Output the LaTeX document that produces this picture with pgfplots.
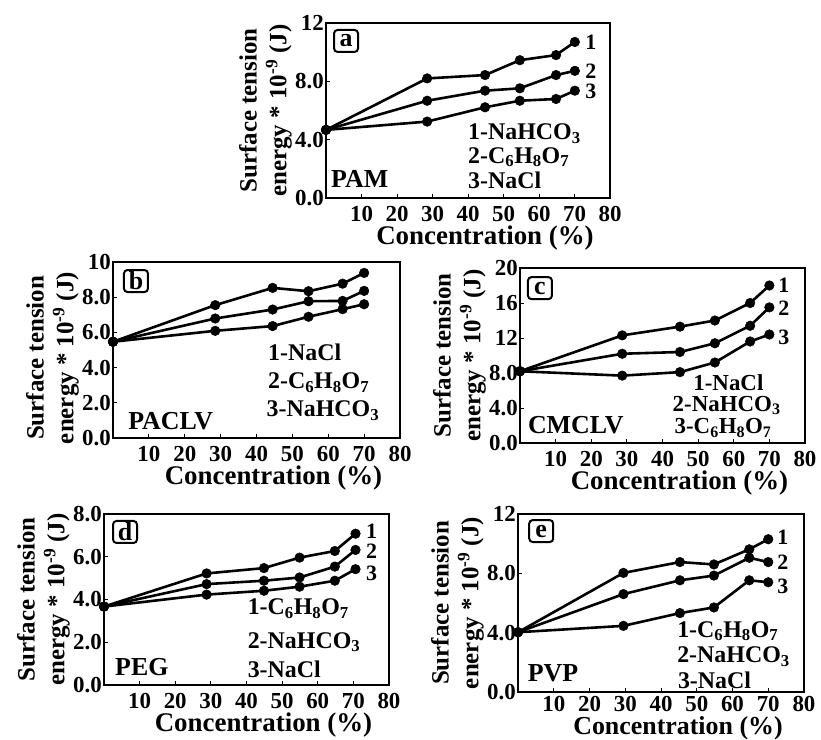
\documentclass[border=0pt]{standalone}
\usepackage{pgfplots}
\pgfplotsset{compat=1.18}
\usepackage{fontspec}
\setmainfont{Liberation Serif}
\pgfplotsset{
  panel/.style={
    scale only axis, clip=false,
    xmin=0, xmax=80, ymin=0,
    xtick={10,20,...,80},
    axis line style={line width=2bp},
    tick style={line width=1bp, black},
    major tick length=4bp,
    tick align=inside,
    xtick pos=bottom, ytick pos=left,
    ticklabel style={font=\fontsize{23}{24}\selectfont\bfseries},
    xticklabel style={inner sep=0pt, yshift=-8bp},
    yticklabel style={inner sep=2pt},
    /pgf/number format/assume math mode=true,
    xlabel={Concentration (\%)},
    xlabel style={font=\fontsize{27}{28}\selectfont\bfseries, inner sep=0pt,
      at={(axis description cs:0.5,0)}, anchor=north, yshift=-28bp, xshift=17bp},
    ylabel={Surface tension\\energy * 10\textsuperscript{-9} (J)},
    ylabel style={font=\fontsize{25}{30}\selectfont\bfseries, align=center, inner sep=1pt},
    every axis plot post/.append style={black, line width=2.6bp, mark=*, mark size=4.8bp,
      mark options={solid, fill=black, line width=0.5bp}},
  },
}
\tikzset{
  lbl/.style={font=\fontsize{24}{25}\selectfont\bfseries, inner sep=0pt},
  name/.style={font=\fontsize{26}{27}\selectfont\bfseries, inner sep=0pt},
  num/.style={font=\fontsize{22}{23}\selectfont\bfseries, inner sep=0pt},
  box/.style={draw, rounded corners=3.5bp, line width=2bp, inner sep=1bp, minimum width=24bp, minimum height=22bp, font=\fontsize{26}{27}\selectfont\bfseries},
}
\begin{document}
\begin{tikzpicture}
\useasboundingbox (0,0) rectangle (821bp,-740bp);
% ---------- a
\begin{axis}[panel, at={(326bp,-198bp)}, anchor=south west, width=284bp, height=175bp,
  ymax=12, ytick={0,4,8,12}, yticklabels={0.0,4.0,8.0,12}]
\addplot coordinates {(0,4.67)(28.5,8.2)(44.8,8.43)(54.6,9.45)(64.8,9.8)(70.1,10.7)};
\addplot coordinates {(0,4.67)(28.5,6.67)(44.8,7.36)(54.6,7.52)(64.8,8.43)(70.1,8.72)};
\addplot coordinates {(0,4.67)(28.5,5.24)(44.8,6.22)(54.6,6.67)(64.8,6.79)(70.1,7.36)};
\node[box] at (axis cs:5.65,10.77) {a};
\node[name, anchor=west] at (axis cs:1.4,1.3) {PAM};
\node[lbl, anchor=west] at (axis cs:40,4.4) {1-NaHCO\textsubscript{3}};
\node[lbl, anchor=west] at (axis cs:40,2.8) {2-C\textsubscript{6}H\textsubscript{8}O\textsubscript{7}};
\node[lbl, anchor=west] at (axis cs:40,1.2) {3-NaCl};
\node[num, anchor=west] at (axis cs:73,10.7) {1};
\node[num, anchor=west] at (axis cs:73,8.7) {2};
\node[num, anchor=west] at (axis cs:73,7.3) {3};
\end{axis}
% ---------- b
\begin{axis}[panel, at={(113bp,-438bp)}, anchor=south west, width=287bp, height=176bp,
  ymax=10, ytick={0,2,4,6,8,10}, yticklabels={0.0,2.0,4.0,6.0,8.0,10},
  ylabel style={xshift=-8bp}]
\addplot coordinates {(0,5.47)(28.5,7.55)(44.5,8.53)(54.5,8.34)(64,8.77)(70,9.38)};
\addplot coordinates {(0,5.47)(28.5,6.79)(44.5,7.30)(54.5,7.77)(64,7.79)(70,8.36)};
\addplot coordinates {(0,5.47)(28.5,6.09)(44.5,6.36)(54.5,6.89)(64,7.32)(70,7.60)};
\node[box] at (axis cs:6.4,8.92) {b};
\node[name, anchor=west] at (axis cs:4.2,0.97) {PACLV};
\node[lbl, anchor=west] at (axis cs:43.2,4.85) {1-NaCl};
\node[lbl, anchor=west] at (axis cs:43.2,3.15) {2-C\textsubscript{6}H\textsubscript{8}O\textsubscript{7}};
\node[lbl, anchor=west] at (axis cs:42.8,1.55) {3-NaHCO\textsubscript{3}};
\end{axis}
% ---------- c
\begin{axis}[panel, at={(520bp,-443bp)}, anchor=south west, width=285bp, height=175bp,
  ymax=20, ytick={0,4,8,12,16,20}, yticklabels={0.0,4.0,8.0,12,16,20}]
\addplot coordinates {(0,8.2)(28.7,12.3)(44.9,13.3)(54.7,14.0)(64.6,16.0)(70,18.0)};
\addplot coordinates {(0,8.2)(28.7,10.2)(44.9,10.4)(54.7,11.4)(64.6,13.4)(70,15.5)};
\addplot coordinates {(0,8.2)(28.7,7.7)(44.9,8.1)(54.7,9.2)(64.6,11.6)(70,12.4)};
\node[box] at (axis cs:5.6,17.7) {c};
\node[name, anchor=west] at (axis cs:2.2,2.06) {CMCLV};
\node[lbl, font=\fontsize{23}{24}\selectfont\bfseries] at (axis cs:58.5,6.85) {1-NaCl};
\node[lbl, font=\fontsize{23}{24}\selectfont\bfseries] at (axis cs:58,4.3) {2-NaHCO\textsubscript{3}};
\node[lbl, font=\fontsize{23}{24}\selectfont\bfseries] at (axis cs:57,1.7) {3-C\textsubscript{6}H\textsubscript{8}O\textsubscript{7}};
\node[num, anchor=west] at (axis cs:72.5,18.05) {1};
\node[num, anchor=west] at (axis cs:72.5,15.4) {2};
\node[num, anchor=west] at (axis cs:72.5,12.1) {3};
\end{axis}
% ---------- d
\begin{axis}[panel, at={(104bp,-685bp)}, anchor=south west, width=285bp, height=171bp,
  ymax=8, ytick={0,2,4,6,8}, yticklabels={0.0,2.0,4.0,6.0,8.0}]
\addplot coordinates {(0,3.67)(28.8,5.22)(44.9,5.47)(54.9,5.96)(64.8,6.27)(70.6,7.08)};
\addplot coordinates {(0,3.67)(28.8,4.72)(44.9,4.88)(54.9,5.03)(64.8,5.54)(70.6,6.32)};
\addplot coordinates {(0,3.67)(28.8,4.23)(44.9,4.41)(54.9,4.60)(64.8,4.88)(70.6,5.42)};
\node[box] at (axis cs:5.9,7.16) {d};
\node[name, anchor=west] at (axis cs:3.1,0.84) {PEG};
\node[lbl, anchor=west] at (axis cs:40.3,3.58) {1-C\textsubscript{6}H\textsubscript{8}O\textsubscript{7}};
\node[lbl, anchor=west] at (axis cs:40.3,2.0) {2-NaHCO\textsubscript{3}};
\node[lbl, anchor=west] at (axis cs:40.3,0.74) {3-NaCl};
\node[num, anchor=west] at (axis cs:73.5,7.2) {1};
\node[num, anchor=west] at (axis cs:73.5,6.25) {2};
\node[num, anchor=west] at (axis cs:73.5,5.24) {3};
\end{axis}
% ---------- e
\begin{axis}[panel, at={(518bp,-692bp)}, anchor=south west, width=286bp, height=178bp,
  ymax=12, ytick={0,4,8,12}, yticklabels={0.0,4.0,8.0,12},
  xticklabel style={yshift=4bp},
  xlabel style={yshift=4bp, font=\fontsize{26}{27}\selectfont\bfseries}]
\addplot coordinates {(0,4.03)(29.5,8.03)(45.3,8.76)(54.8,8.6)(64.7,9.62)(70,10.3)};
\addplot coordinates {(0,4.03)(29.5,6.6)(45.3,7.53)(54.8,7.85)(64.7,9.05)(70,8.76)};
\addplot coordinates {(0,4.03)(29.5,4.46)(45.3,5.32)(54.8,5.7)(64.7,7.53)(70,7.4)};
\node[box] at (axis cs:6.5,10.85) {e};
\node[name, anchor=west] at (axis cs:2.7,1.29) {PVP};
\node[lbl, anchor=west] at (axis cs:44.5,4.1) {1-C\textsubscript{6}H\textsubscript{8}O\textsubscript{7}};
\node[lbl, anchor=west] at (axis cs:44.5,2.4) {2-NaHCO\textsubscript{3}};
\node[lbl, anchor=west] at (axis cs:44.7,0.8) {3-NaCl};
\node[num, anchor=west] at (axis cs:72.5,10.44) {1};
\node[num, anchor=west] at (axis cs:72.5,8.75) {2};
\node[num, anchor=west] at (axis cs:72.5,7.12) {3};
\end{axis}
\end{tikzpicture}
\end{document}
